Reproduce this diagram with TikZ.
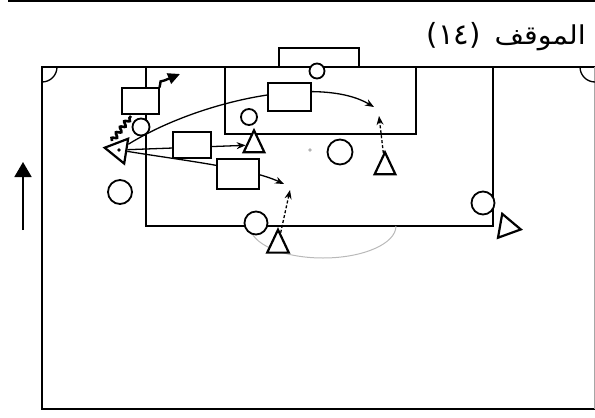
\documentclass[tikz,border=0pt]{standalone}
\usepackage{fontspec}
\newfontfamily\arabicfont[Script=Arabic]{DejaVu Sans}
\TeXXeTstate=1
\usetikzlibrary{arrows.meta,shapes.geometric,decorations.pathmorphing}
\begin{document}
\begin{tikzpicture}[x=1pt,y=-1pt,
  fieldline/.style={line width=2.4pt},
  markline/.style={line width=1.3pt},
  box/.style={draw, fill=white, line width=1.2pt, rectangle, inner sep=0pt},
  opp/.style={draw, fill=white, circle, line width=1.8pt, inner sep=0pt},
  tri/.style={draw, fill=white, regular polygon, regular polygon sides=3, line width=2.2pt, inner sep=0pt, minimum size=26pt},
  tallri/.style={tri, minimum size=24pt, transform shape, yscale=1.22},
  pass/.style={line width=1.3pt, -{Stealth[length=9pt,width=7pt]}},
  runline/.style={line width=1.3pt, dash pattern=on 3pt off 2pt, -{Stealth[length=9pt,width=7pt]}},
  titletext/.style={inner sep=0pt, font=\arabicfont\fontsize{26}{30}\selectfont},
]
\useasboundingbox (0,0) rectangle (595,418);
% top rule
\draw[line width=1.8pt] (8,1) -- (595,1);
% title
\node[titletext, anchor=base east] (title) at (586,44) {\scalebox{1.1}[1]{\beginR الموقف\endR}};
\node[titletext, anchor=base east] (num) at (481,44) {\scalebox{1.12}{(١٤)}};
% field
\draw[fieldline] (595,67) -- (42,67) -- (42,409) -- (595,409);
\draw[line width=0.8pt, gray!70] (594,67) -- (594,409);
\draw[markline] (146,67) -- (146,226) -- (493,226) -- (493,67);
\draw[markline] (225,67) -- (225,134) -- (416,134) -- (416,67);
\draw[markline] (279,67) -- (279,48) -- (359,48) -- (359,67);
\draw[markline] (57,67) arc[start angle=0, end angle=90, radius=15];
\draw[markline] (580,67) arc[start angle=180, end angle=90, radius=15];
\draw[line width=1pt, gray!55] (250,226) arc[start angle=180, end angle=0, x radius=73, y radius=32];
\fill[gray!60] (310,150) circle (1.8);
% direction arrow
\coordinate (uS) at (23,230);
\coordinate (uE) at (23,162);
\draw[line width=1.8pt, -{Triangle[length=15pt,width=17pt]}] (uS) -- (uE);
% players
\node[opp, minimum size=15pt] (gk) at (317,71) {};
\node[opp, minimum size=17pt] (o1) at (141,127) {};
\node[opp, minimum size=24pt] (o2) at (120,192) {};
\node[opp, minimum size=16pt] (o3) at (249,117) {};
\node[opp, minimum size=25pt] (o4) at (340,152) {};
\node[opp, minimum size=23pt] (o5) at (256,223) {};
\node[opp, minimum size=23pt] (o6) at (483,203) {};
\node[tri, minimum size=29pt, rotate=81] (att) at (119,150) {};
\fill (att.center) circle (1.8);
\node[tallri] (t1) at (254,145) {};
\node[tallri] (t2) at (385,167) {};
\node[tallri, minimum size=25pt] (t3) at (278,245) {};
\node[tri, minimum size=28pt, rotate=20] (t4) at (507,227) {};
% passes
\coordinate (eA) at (374,107);
\coordinate (eC) at (284,184);
\coordinate (eR2) at (379,116);
\coordinate (eR3) at (290,190);
\draw[pass] (att) .. controls (200,100) and (320,75) .. (eA);
\draw[pass] (att) -- (t1);
\draw[pass] (att) .. controls (180,160) and (250,168) .. (eC);
% runs
\draw[runline] (t2) -- (eR2);
\draw[runline] (t3) -- (eR3);
% dribble
\coordinate (dS) at (112,141);
\coordinate (dE) at (131,116);
\draw[line width=2.6pt, decorate, decoration={snake, segment length=7pt, amplitude=2.2pt}] (dS) -- (dE);
% boxes
\node[box, minimum width=37pt, minimum height=26pt] (bD) at (140.5,101) {};
\node[box, minimum width=43pt, minimum height=28pt] (bA) at (289.5,97) {};
\node[box, minimum width=38pt, minimum height=26pt] (bB) at (192,145) {};
\node[box, minimum width=42pt, minimum height=30pt] (bC) at (238,174) {};
% kick
\coordinate (kE) at (180,74);
\draw[line width=2.4pt, -{Triangle[length=12pt,width=11pt]}] (bD.north east) -- ++(1,-6) -- ++(4,-1) -- (kE);
\end{tikzpicture}
\end{document}
